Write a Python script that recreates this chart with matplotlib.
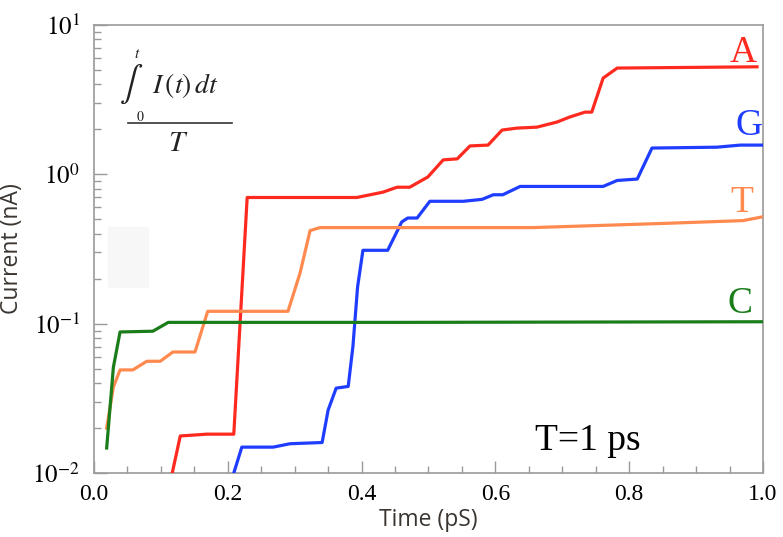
import math
import matplotlib
matplotlib.use("Agg")
import matplotlib.pyplot as plt
from matplotlib.ticker import FixedLocator, LogLocator, NullFormatter, FuncFormatter
import matplotlib.patches as mpatches

plt.rcParams['mathtext.fontset'] = 'stix'

# Data (time in pS, current in nA)
a_t = [0.117, 0.129, 0.169, 0.209, 0.229, 0.393, 0.432, 0.453, 0.472, 0.499, 0.522, 0.543,
       0.562, 0.589, 0.610, 0.632, 0.662, 0.692, 0.711, 0.734, 0.744, 0.761, 0.782, 0.991]
a_i = [0.0100, 0.0177, 0.0182, 0.0182, 0.70, 0.70, 0.76, 0.82, 0.82, 0.96, 1.25, 1.27,
       1.55, 1.57, 1.98, 2.04, 2.07, 2.24, 2.42, 2.61, 2.61, 4.41, 5.15, 5.25]

g_t = [0.209, 0.221, 0.268, 0.293, 0.341, 0.350, 0.362, 0.380, 0.387, 0.394, 0.402, 0.439,
       0.460, 0.469, 0.483, 0.502, 0.552, 0.580, 0.597, 0.611, 0.637, 0.761, 0.782, 0.812,
       0.834, 0.931, 0.966, 1.0]
g_i = [0.0100, 0.0149, 0.0149, 0.0157, 0.0160, 0.0264, 0.037, 0.038, 0.070, 0.176, 0.31, 0.31,
       0.48, 0.51, 0.51, 0.66, 0.66, 0.68, 0.73, 0.73, 0.83, 0.83, 0.91, 0.93,
       1.50, 1.52, 1.57, 1.57]

t_t = [0.019, 0.029, 0.039, 0.058, 0.079, 0.099, 0.118, 0.151, 0.170, 0.290, 0.308, 0.323,
       0.338, 0.656, 0.856, 0.970, 1.0]
t_i = [0.020, 0.0376, 0.049, 0.049, 0.056, 0.056, 0.0646, 0.0646, 0.121, 0.121, 0.218, 0.42,
       0.44, 0.44, 0.47, 0.49, 0.52]

c_t = [0.019, 0.029, 0.039, 0.088, 0.111, 0.45, 1.0]
c_i = [0.0147, 0.051, 0.088, 0.089, 0.102, 0.102, 0.103]

series_names = ["A", "G", "T", "C"]
series_colors = ["#ff2a1f", "#1f3dff", "#ff8a4f", "#1a7d1a"]
series = list(zip(series_names, [a_t, g_t, t_t, c_t], [a_i, g_i, t_i, c_i], series_colors))
# label anchor (x right edge, baseline y)
label_x = {"A": 0.991, "G": 0.999, "T": 0.985, "C": 0.985}
label_y = {"A": 5.65, "G": 1.83, "T": 0.56, "C": 0.118}

xticks = [0.0, 0.2, 0.4, 0.6, 0.8, 1.0]

fig = plt.figure(figsize=(7.83, 5.37), dpi=100)
ax = fig.add_axes([0.120, 0.1192, 0.8545, 0.8342])

for name, t, i, col in series:
    ax.plot(t, i, color=col, lw=2.3, solid_joinstyle='round', zorder=3)

ax.set_yscale('log')
ax.set_xlim(0, 1.0)
ax.set_ylim(1e-2, 1e1)

grey = '#9a9a9a'
for s in ax.spines.values():
    s.set_color(grey)
    s.set_linewidth(1.2)

ax.xaxis.set_major_locator(FixedLocator(xticks))
ax.xaxis.set_minor_locator(FixedLocator([k * 0.05 for k in range(21)]))
ax.set_xticklabels([f"{v:.1f}" for v in xticks])
ax.yaxis.set_major_locator(LogLocator(base=10, numticks=10))
ax.yaxis.set_minor_locator(LogLocator(base=10, subs=range(2, 10), numticks=20))
ax.yaxis.set_minor_formatter(NullFormatter())
ax.yaxis.set_major_formatter(FuncFormatter(lambda v, p: r'$10^{%d}$' % round(math.log10(v))))

ax.tick_params(which='both', direction='in', color=grey, width=1.0, top=False, right=False)
ax.tick_params(which='major', length=9)
ax.tick_params(which='minor', length=5)
ax.tick_params(axis='x', which='major', labelsize=17, pad=8)
ax.tick_params(axis='y', which='major', labelsize=18, pad=10)
for lab in ax.get_xticklabels():
    lab.set_family('Liberation Serif')

ax.set_xlabel('Time (pS)', fontsize=16.5, color='#3a3530', labelpad=2, family='Open Sans')
ax.set_ylabel('Current (nA)', fontsize=16.5, color='#3a3530', labelpad=6, family='Open Sans')

# Series labels
for name, t, i, col in series:
    ax.text(label_x[name], label_y[name], name, color=col, fontsize=27,
            family='Liberation Serif', ha='right', va='baseline')

ax.text(0.659, 0.0142, 'T=1 ps', fontsize=27, family='Liberation Serif', ha='left',
        va='baseline', color='black')

# Formula
fc = '#222222'
ax.text(0.056, 4.0, r'$\int$', fontsize=25, ha='center', va='center', color=fc)
ax.text(0.065, 6.4, r'$t$', fontsize=11, ha='center', va='center', color=fc)
ax.text(0.069, 2.42, r'$0$', fontsize=10, ha='center', va='center', color=fc)
ax.text(0.086, 3.96, r'$I\,(t)\,dt$', fontsize=20, ha='left', va='center', color=fc)
ax.plot([0.051, 0.206], [2.21, 2.21], color='#333333', lw=1.2)
ax.text(0.126, 1.62, r'$T$', fontsize=21, ha='center', va='center', color=fc)

# faint rectangle artifact
ax.add_patch(mpatches.Rectangle((0.021, 0.415), 0.06, 0.134, color='#f7f7f7', zorder=0,
                                transform=ax.get_xaxis_transform()))

fig.savefig('out.png', dpi=100)
